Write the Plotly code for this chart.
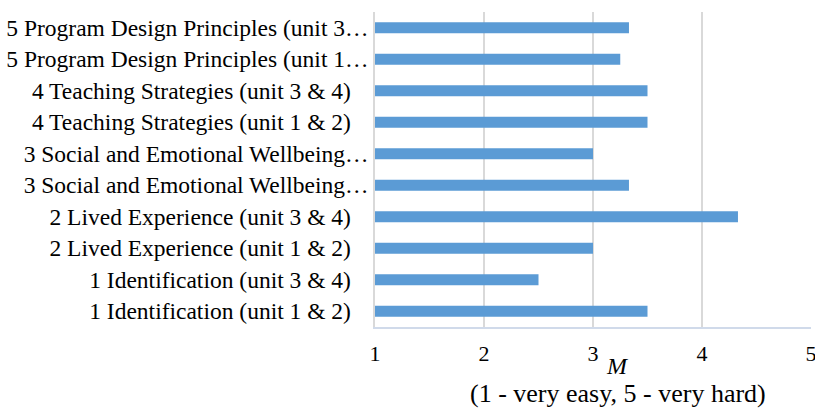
import plotly.graph_objects as go

categories = [
    "1 Identification (unit 1 & 2)",
    "1 Identification (unit 3 & 4)",
    "2 Lived Experience (unit 1 & 2)",
    "2 Lived Experience (unit 3 & 4)",
    "3 Social and Emotional Wellbeing…",
    "3 Social and Emotional Wellbeing…",
    "4 Teaching Strategies (unit 1 & 2)",
    "4 Teaching Strategies (unit 3 & 4)",
    "5 Program Design Principles (unit 1…",
    "5 Program Design Principles (unit 3…",
]
values = [3.5, 2.5, 3.0, 4.33, 3.33, 3.0, 3.5, 3.5, 3.25, 3.33]
x_ticks = [1, 2, 3, 4, 5]

FONT = "Liberation Serif"
BLUE = "#5B9BD5"

positions = list(range(len(categories)))
ticktext = [c if c.endswith("…") else c + "\u00a0" * 3 for c in categories]

fig = go.Figure()
fig.add_trace(go.Bar(
    x=[v - 1 for v in values],
    base=1,
    y=positions,
    orientation="h",
    marker=dict(color=BLUE, line=dict(width=0)),
    width=0.35,
    hoverinfo="skip",
))

fig.update_layout(
    width=815, height=408,
    margin=dict(l=375, r=4, t=12, b=81),
    paper_bgcolor="white", plot_bgcolor="white",
    showlegend=False,
    font=dict(family=FONT, size=23, color="#000000"),
    xaxis=dict(
        range=[1, 5], tickvals=x_ticks, ticktext=[str(t) for t in x_ticks],
        showgrid=True, gridcolor="#D9D9D9", gridwidth=1.5,
        zeroline=False, showline=True, linecolor="#D0DAEA", linewidth=1.5,
        ticks="", ticklabelstandoff=6, ticklabeloverflow="allow",
        automargin=False,
        tickfont=dict(family=FONT, size=22, color="#000"),
    ),
    yaxis=dict(
        range=[-0.5, len(categories) - 0.5], tickvals=positions, ticktext=ticktext,
        showgrid=False, zeroline=False, showline=True, linecolor="#D9D9D9", linewidth=1.5,
        ticks="", ticklabelstandoff=0, ticklabeloverflow="allow",
        automargin=False,
        tickfont=dict(family=FONT, size=23.5, color="#000"),
    ),
    annotations=[
        dict(text="<i>M</i>", xref="paper", yref="paper", x=0.557, y=-0.125,
             showarrow=False, xanchor="center", yanchor="middle",
             font=dict(family=FONT, size=24, color="#000")),
        dict(text="(1 - very easy, 5 - very hard)", xref="paper", yref="paper", x=0.557, y=-0.21,
             showarrow=False, xanchor="center", yanchor="middle",
             font=dict(family=FONT, size=26, color="#000")),
    ],
)

fig.write_html("out.html")
